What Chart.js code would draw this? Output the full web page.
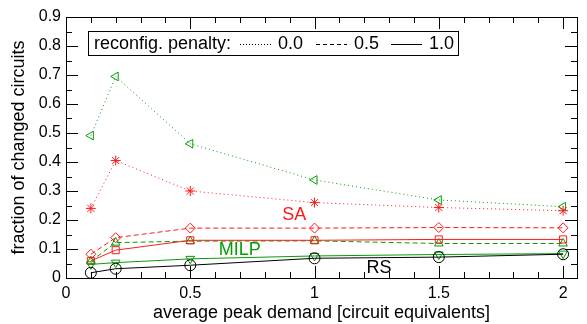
<!DOCTYPE html>
<html>
<head>
<meta charset="utf-8">
<script src="https://cdn.jsdelivr.net/npm/chart.js@4/dist/chart.umd.min.js"></script>
<style>
  html, body { margin: 0; padding: 0; background: #fff; }
  #wrap { width: 587px; height: 324px; }
</style>
</head>
<body>
<div id="wrap"><canvas id="grafico"></canvas></div>
<script>
// Datos
const demanda = [0.1, 0.2, 0.5, 1, 1.5, 2];
const saPunteado = [0.24, 0.405, 0.30, 0.26, 0.243, 0.232];
const milpPunteado = [0.491, 0.695, 0.463, 0.338, 0.269, 0.246];
const saRayado = [0.082, 0.139, 0.172, 0.172, 0.174, 0.173];
const milpRayado = [0.058, 0.122, 0.127, 0.128, 0.119, 0.119];
const saSolido = [0.059, 0.096, 0.13, 0.13, 0.133, 0.133];
const milpSolido = [0.047, 0.053, 0.066, 0.076, 0.081, 0.084];
const rsSolido = [0.018, 0.032, 0.044, 0.068, 0.072, 0.082];
const ticksX = [0, 0.5, 1, 1.5, 2];
const ticksY = [0, 0.1, 0.2, 0.3, 0.4, 0.5, 0.6, 0.7, 0.8, 0.9];

const ROJO = '#ff1a1a';
const VERDE = '#079c07';
const FUENTE = "'Liberation Sans', Arial, sans-serif";

function puntos(valores) {
    return demanda.map((x, i) => ({ x: x, y: valores[i] }));
}

function serie(label, valores, color, dash, estilo, rotacion, radio) {
    return {
        label: label,
        data: puntos(valores),
        borderColor: color,
        backgroundColor: 'rgba(0,0,0,0)',
        borderWidth: 1,
        borderDash: dash,
        pointStyle: estilo,
        rotation: rotacion,
        pointRadius: radio,
        pointBorderWidth: 1,
        pointBorderColor: color,
        pointBackgroundColor: 'rgba(0,0,0,0)',
        tension: 0,
        fill: false
    };
}

// Marco, marcas de ejes, leyenda y etiquetas de texto
const marcoPlugin = {
    id: 'marco',
    afterDraw(chart) {
        const ctx = chart.ctx;
        const a = chart.chartArea;
        const sx = chart.scales.x;
        const sy = chart.scales.y;
        ctx.save();
        ctx.strokeStyle = '#000';
        ctx.lineWidth = 1;
        ctx.setLineDash([]);
        ctx.strokeRect(Math.round(a.left) + 0.5, Math.round(a.top) + 0.5,
            Math.round(a.right - a.left), Math.round(a.bottom - a.top));

        ctx.beginPath();
        // marcas eje x: mayores cada 0.5, menores cada 0.1
        for (let k = 0; k <= 20; k++) {
            const v = k / 10;
            const px = Math.round(sx.getPixelForValue(v)) + 0.5;
            const largo = (k % 5 === 0) ? 12 : 6;
            ctx.moveTo(px, a.bottom); ctx.lineTo(px, a.bottom - largo);
            ctx.moveTo(px, a.top); ctx.lineTo(px, a.top + largo);
        }
        // marcas eje y: mayores cada 0.1, menores cada 0.05
        for (let k = 0; k <= 18; k++) {
            const v = k / 20;
            const py = Math.round(sy.getPixelForValue(v)) + 0.5;
            const largo = (k % 2 === 0) ? 12 : 6;
            ctx.moveTo(a.left, py); ctx.lineTo(a.left + largo, py);
            ctx.moveTo(a.right, py); ctx.lineTo(a.right - largo, py);
        }
        ctx.stroke();

        // leyenda
        const lx = a.left + 22, ly = a.top + 14, lw = 370, lh = 24;
        ctx.fillStyle = '#fff';
        ctx.fillRect(lx, ly, lw, lh);
        ctx.strokeRect(lx + 0.5, ly + 0.5, lw, lh);
        ctx.fillStyle = '#000';
        ctx.font = '18px ' + FUENTE;
        ctx.textBaseline = 'middle';
        ctx.textAlign = 'left';
        const cy = ly + lh / 2 + 1;
        ctx.fillText('reconfig. penalty:', lx + 6, cy);
        const muestras = [
            { dash: [1, 2], x0: 240, texto: '0.0' },
            { dash: [4, 3], x0: 316, texto: '0.5' },
            { dash: [], x0: 391, texto: '1.0' }
        ];
        muestras.forEach(m => {
            ctx.beginPath();
            ctx.setLineDash(m.dash);
            ctx.moveTo(m.x0, Math.round(cy) + 0.5);
            ctx.lineTo(m.x0 + 31, Math.round(cy) + 0.5);
            ctx.stroke();
            ctx.setLineDash([]);
            ctx.fillText(m.texto, m.x0 + 38, cy);
        });

        // etiquetas de algoritmos
        ctx.font = '18px ' + FUENTE;
        ctx.textAlign = 'center';
        ctx.fillStyle = ROJO;
        ctx.fillText('SA', sx.getPixelForValue(0.918), sy.getPixelForValue(0.217));
        ctx.fillStyle = VERDE;
        ctx.fillText('MILP', sx.getPixelForValue(0.699), sy.getPixelForValue(0.096));
        ctx.fillStyle = '#000';
        ctx.fillText('RS', sx.getPixelForValue(1.259), sy.getPixelForValue(0.036));
        ctx.restore();
    }
};

const ctx = document.getElementById('grafico').getContext('2d');
new Chart(ctx, {
    type: 'line',
    data: {
        datasets: [
            serie('RS 1.0', rsSolido, '#000', [], 'circle', 0, 5.5),
            serie('MILP 1.0', milpSolido, VERDE, [], 'triangle', 180, 5),
            serie('SA 1.0', saSolido, ROJO, [], 'rect', 0, 5),
            serie('MILP 0.5', milpRayado, VERDE, [5, 3], 'triangle', 0, 5),
            serie('SA 0.5', saRayado, ROJO, [5, 3], 'rectRot', 0, 5),
            serie('SA 0.0', saPunteado, ROJO, [1, 3], 'star', 0, 5),
            serie('MILP 0.0', milpPunteado, VERDE, [1, 3], 'triangle', 270, 5)
        ]
    },
    options: {
        responsive: true,
        maintainAspectRatio: false,
        animation: false,
        events: [],
        layout: { padding: { left: 0, top: 17, right: 10, bottom: 0 } },
        plugins: {
            legend: { display: false },
            tooltip: { enabled: false }
        },
        scales: {
            x: {
                type: 'linear',
                min: 0,
                max: 2.056,
                afterBuildTicks: scale => { scale.ticks = ticksX.map(v => ({ value: v })); },
                afterFit: scale => { scale.height = 46; },
                grid: { display: false, drawTicks: false },
                border: { display: false },
                ticks: {
                    color: '#000',
                    padding: 6,
                    maxRotation: 0,
                    callback: v => String(v),
                    font: { size: 16, family: FUENTE }
                },
                title: {
                    display: true,
                    text: 'average peak demand [circuit equivalents]',
                    color: '#000',
                    padding: { top: 0, bottom: 0 },
                    font: { size: 18, family: FUENTE }
                }
            },
            y: {
                type: 'linear',
                min: 0,
                max: 0.9,
                afterBuildTicks: scale => { scale.ticks = ticksY.map(v => ({ value: v })); },
                afterFit: scale => { scale.width = 66; },
                grid: { display: false, drawTicks: false },
                border: { display: false },
                ticks: {
                    color: '#000',
                    padding: 5,
                    callback: v => String(v),
                    font: { size: 16, family: FUENTE }
                },
                title: {
                    display: true,
                    text: 'fraction of changed circuits',
                    color: '#000',
                    padding: { top: 8, bottom: 0 },
                    font: { size: 18, family: FUENTE }
                }
            }
        }
    },
    plugins: [marcoPlugin]
});
</script>
</body>
</html>
